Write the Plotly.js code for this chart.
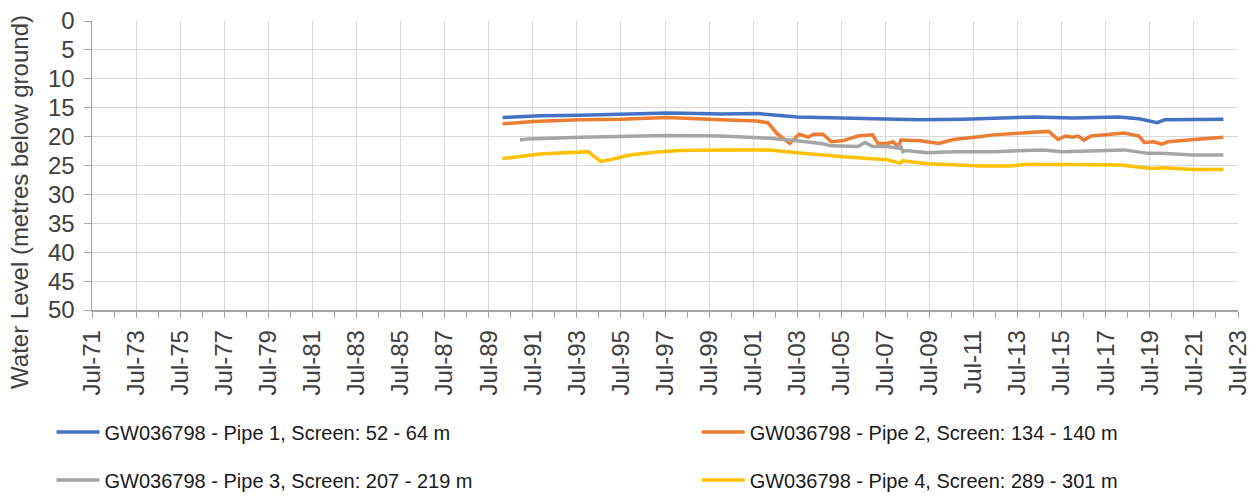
<!DOCTYPE html>
<html>
<head>
<meta charset="utf-8">
<script src="https://cdn.plot.ly/plotly-3.0.1.min.js"></script>
<style>html,body{margin:0;padding:0;background:#fff;}#chart{width:1258px;height:496px;}</style>
</head>
<body>
<div id="chart"></div>
<script>
// Pipe 1
const pipe1Dates = ["1990-02-15","1991-01-01","1991-11-01","1993-09-01","1995-07-01","1997-08-01","1999-01-01","2000-01-15","2001-09-01","2002-04-01","2003-07-01","2005-07-01","2007-08-01","2009-01-01","2011-01-01","2014-04-01","2016-01-01","2018-02-01","2019-01-01","2019-11-01","2020-03-01","2021-07-01","2022-11-01"];
const pipe1Values = [16.7,16.5,16.4,16.3,16.1,15.9,16.0,16.1,16.0,16.2,16.6,16.8,17.0,17.1,17.0,16.6,16.8,16.6,16.9,17.6,17.1,17.1,17.0];
// Pipe 2
const pipe2Dates = ["1990-02-15","1991-07-01","1993-09-01","1995-07-01","1997-08-01","1999-07-01","2000-01-15","2001-09-01","2002-03-01","2002-08-01","2003-03-01","2003-08-01","2004-01-01","2004-04-01","2004-09-01","2005-01-15","2005-08-01","2006-04-01","2006-12-01","2007-03-01","2007-08-01","2007-11-01","2008-02-01","2008-03-15","2009-02-01","2009-12-01","2010-08-01","2011-11-01","2012-06-01","2014-01-01","2014-12-01","2015-05-01","2015-09-01","2016-01-01","2016-04-01","2016-07-01","2016-11-01","2018-05-01","2019-01-01","2019-04-01","2019-09-01","2020-01-15","2020-05-01","2021-07-01","2022-11-01"];
const pipe2Values = [17.8,17.4,17.1,17.0,16.7,16.9,17.1,17.3,17.6,19.5,21.2,19.6,20.1,19.6,19.6,20.9,20.7,19.9,19.7,21.2,21.2,20.9,21.7,20.6,20.7,21.2,20.5,20.0,19.7,19.3,19.1,20.5,19.9,20.1,19.9,20.6,19.9,19.4,19.9,21.0,20.9,21.3,20.9,20.5,20.1];
// Pipe 3
const pipe3Dates = ["1990-12-01","1991-04-01","1993-09-01","1997-08-01","2000-01-15","2002-04-01","2003-07-01","2004-08-01","2005-01-15","2006-04-01","2006-08-01","2006-12-01","2007-08-01","2008-02-01","2008-03-01","2008-04-15","2008-06-01","2009-06-01","2010-08-01","2012-06-01","2014-09-01","2015-07-01","2018-05-01","2019-06-01","2020-01-15","2021-06-01","2022-11-01"];
const pipe3Values = [20.6,20.4,20.1,19.8,19.9,20.3,20.7,21.2,21.6,21.7,21.0,21.7,21.7,22.0,21.5,22.6,22.4,22.8,22.6,22.6,22.3,22.6,22.3,22.9,22.9,23.2,23.2];
// Pipe 4
const pipe4Dates = ["1990-02-15","1991-02-01","1991-11-01","1994-01-01","1994-08-01","1995-01-01","1995-12-01","1997-01-01","1998-03-01","2000-01-15","2002-04-01","2003-07-01","2005-08-01","2007-08-01","2008-03-01","2008-04-15","2009-06-01","2011-11-01","2013-03-01","2014-01-01","2018-03-01","2019-08-01","2020-02-01","2021-07-01","2022-11-01"];
const pipe4Values = [23.8,23.4,23.0,22.6,24.3,24.0,23.2,22.7,22.4,22.3,22.3,22.8,23.5,24.0,24.6,24.2,24.7,25.1,25.1,24.8,24.9,25.5,25.4,25.7,25.7];

const seriesNames = ["GW036798 - Pipe 1, Screen: 52 - 64 m","GW036798 - Pipe 2, Screen: 134 - 140 m","GW036798 - Pipe 3, Screen: 207 - 219 m","GW036798 - Pipe 4, Screen: 289 - 301 m"];
const seriesColors = ["#4472C4","#ED7D31","#A5A5A5","#FFC000"];
const yTitle = "Water Level (metres below ground)";

const font = "Liberation Sans, Arial, sans-serif";
const dataSets = [[pipe1Dates,pipe1Values],[pipe2Dates,pipe2Values],[pipe3Dates,pipe3Values],[pipe4Dates,pipe4Values]];
const legendIds = ["legend","legend2","legend3","legend4"];
const traces = dataSets.map((d,i)=>({
  x:d[0], y:d[1], type:"scatter", mode:"lines", name:seriesNames[i],
  line:{color:seriesColors[i], width:3.5}, legend:legendIds[i]
}));

function legendAt(x, y){
  return {xref:"paper", yref:"paper", x:x, y:y, xanchor:"left", yanchor:"middle",
    orientation:"v", font:{family:font,size:20,color:"#1a1a1a"}, itemwidth:43, bgcolor:"rgba(0,0,0,0)"};
}

const layout = {
  width:1258, height:496,
  margin:{l:92,r:20,t:21,b:186, autoexpand:false},
  paper_bgcolor:"#fff", plot_bgcolor:"#fff",
  showlegend:true,
  xaxis:{type:"date", range:["1971-07-01","2023-07-01"], tick0:"1971-07-01", dtick:"M24", tickformat:"%b-%y",
    tickangle:-90, tickfont:{family:font,size:24,color:"#404040"}, showgrid:true, gridcolor:"#d9d9d9", gridwidth:1,
    ticks:"outside", ticklen:6, tickcolor:"#a6a6a6", showline:true, linecolor:"#a6a6a6", linewidth:1.5,
    ticklabelstandoff:3,
    minor:{dtick:"M12", tick0:"1971-07-01", ticks:"outside", ticklen:6, tickcolor:"#a6a6a6", showgrid:false},
    zeroline:false, fixedrange:true, automargin:false},
  yaxis:{range:[50,0], dtick:5, tick0:0, tickfont:{family:font,size:24,color:"#404040"}, showgrid:true, gridcolor:"#d9d9d9",
    ticks:"outside", ticklen:7, tickcolor:"#a6a6a6", showline:true, linecolor:"#a6a6a6", linewidth:1.5, zeroline:false,
    ticklabelstandoff:4, automargin:false},
  annotations:[{text:yTitle, textangle:-90, xref:"paper", yref:"paper", x:-0.0628, y:0.374,
    xanchor:"center", yanchor:"middle", showarrow:false, font:{family:font,size:24,color:"#404040"}}],
  legend:legendAt(-0.0353, -0.4221),
  legend2:legendAt(0.5276, -0.4221),
  legend3:legendAt(-0.0353, -0.5882),
  legend4:legendAt(0.5276, -0.5882)
};

Plotly.newPlot("chart", traces, layout, {displayModeBar:false, staticPlot:true});
</script>
</body>
</html>
